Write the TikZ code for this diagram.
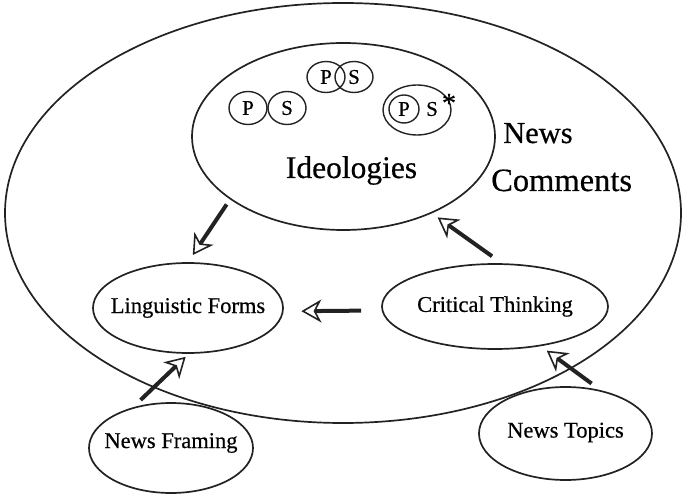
\documentclass[tikz,border=0pt]{standalone}
\usepackage{fontspec}
\setmainfont{Liberation Serif}[FakeBold=0.5]
\usepackage{tikz}
\usetikzlibrary{arrows.meta, positioning, calc, shapes.geometric}
\definecolor{InkGray}{HTML}{222222}

\begin{document}
\begin{tikzpicture}[x=1pt, y=-1pt,
    bubble/.style={draw=InkGray, ellipse, line width=1.7pt, inner sep=0pt},
    tag/.style={inner sep=0pt, font=\fontsize{22.5}{24}\selectfont},
    ps/.style={draw=InkGray, ellipse, line width=1.4pt, inner sep=0pt, minimum width=38pt, minimum height=33pt, font=\fontsize{21}{22}\selectfont},
    flow/.style={draw=InkGray, line width=4pt, -{Stealth[length=20pt, width=23pt, inset=6pt, fill=white, line width=1.6pt]}}]
                    \useasboundingbox (0,0) rectangle (685,494);
                    \node[bubble, minimum width=676pt, minimum height=420pt] (comments) at (343,213) {};
                    \node[bubble, minimum width=303pt, minimum height=187pt] (ideo) at (343.5,136.5) {};
                    \node[anchor=base, inner sep=0pt, font=\fontsize{31.5}{32}\selectfont] (ideolabel) at (351.5,178) {Ideologies};
                    \node[anchor=base west, font=\fontsize{30.5}{32}\selectfont, inner sep=0pt] (newslabel) at (503,143) {News};
                    \node[anchor=base west, font=\fontsize{32.5}{34}\selectfont, inner sep=0pt] (commentlabel) at (491,191) {Comments};

                    \node[ps] (p1) at (248,108) {P};
                    \node[ps] (s1) at (287,108) {S};
                    \node[ps, minimum height=31pt] (p2) at (326,77) {P};
                    \node[ps, minimum height=31pt] (s2) at (354,77) {S};
                    \node[ps, minimum width=68pt, minimum height=50pt] (ps3) at (417,110) {};
                    \node[ps, minimum width=30pt, minimum height=28pt] (p3) at (404,109) {P};
                    \node[inner sep=0pt, font=\fontsize{21}{22}\selectfont] (s3) at (432,109) {S};
                    \node[inner sep=0pt, font=\fontsize{28}{28}\selectfont] (star) at (449,103) {*};

                    \node[bubble, minimum width=190pt, minimum height=90pt, label={[tag, name=linglabel]center:Linguistic Forms}] (ling) at (188,308) {};
                    \node[bubble, minimum width=226pt, minimum height=85pt, label={[tag, name=critlabel]center:Critical Thinking}] (crit) at (495,306.5) {};
                    \node[bubble, minimum width=164pt, minimum height=90pt, label={[tag, name=framelabel, yshift=5pt]center:News Framing}] (frame) at (171,448) {};
                    \node[bubble, minimum width=173pt, minimum height=93pt, label={[tag, name=topicslabel, yshift=1pt]center:News Topics}] (topics) at (565.5,433.5) {};

                    \draw[flow, shorten <=6pt, shorten >=8.6pt] (ideo.209.8) -- (ling.90.4);
                    \draw[flow, shorten <=12pt, shorten >=7pt] (crit.81.2) -- (ideo.319);
                    \draw[flow, shorten <=20.5pt, shorten >=17.8pt] (crit.182) -- (ling.358.5);
                    \draw[flow, shorten <=10.5pt, shorten >=4.3pt] (frame.133.5) -- (ling.271.3);
                    \draw[flow, shorten <=11.2pt, shorten >=7.5pt] (topics.51.1) -- (crit.319.8);
                \end{tikzpicture}
\end{document}
